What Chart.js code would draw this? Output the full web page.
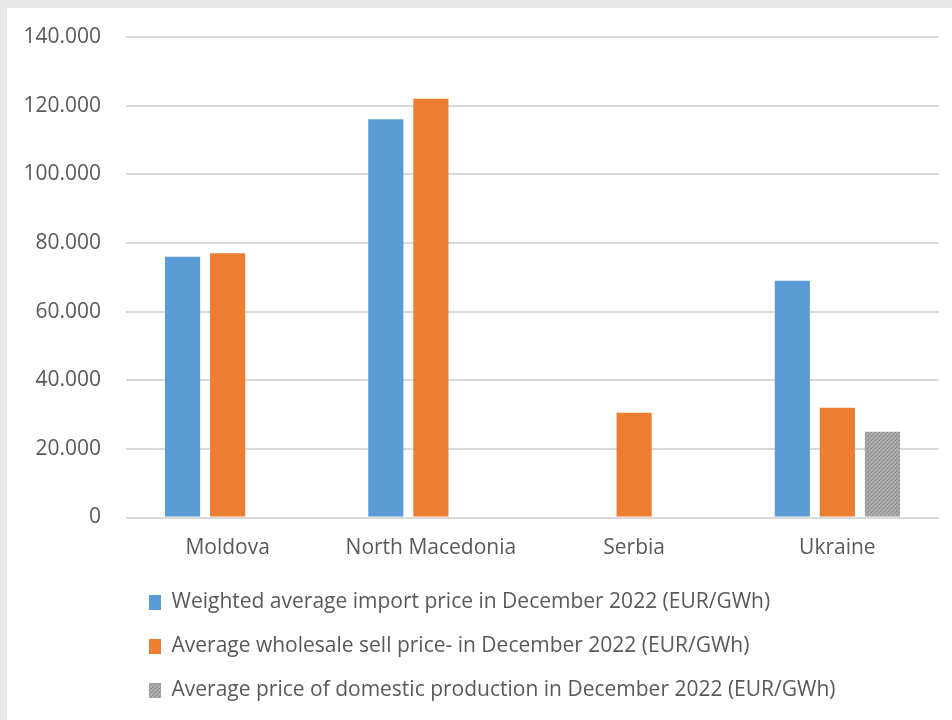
<!DOCTYPE html>
<html>
<head>
<meta charset="utf-8">
<script src="https://cdn.jsdelivr.net/npm/chart.js@4.4.0/dist/chart.umd.min.js"></script>
<style>
  html, body { margin: 0; padding: 0; background: #e7e7e7; }
  #wrap { position: absolute; left: 7px; top: 8px; width: 945px; height: 712px; background: #ffffff; }
</style>
</head>
<body>
<div id="wrap"><canvas id="ctx"></canvas></div>
<script>
var countries = ["Moldova", "North Macedonia", "Serbia", "Ukraine"];
var importPrice = [76, 116, null, 69];
var wholesalePrice = [77, 122, 30.5, 32];
var domesticPrice = [null, null, null, 25];
var seriesNames = [
    "Weighted average import price in December 2022 (EUR/GWh)",
    "Average wholesale sell price- in December 2022 (EUR/GWh)",
    "Average price of domestic production in December 2022 (EUR/GWh)"
];

// speckled grey fill like the original
function greyPattern() {
    var c = document.createElement('canvas');
    c.width = 4; c.height = 4;
    var g = c.getContext('2d');
    g.fillStyle = '#a6a6a6';
    g.fillRect(0, 0, 4, 4);
    g.fillStyle = '#8f8f8f';
    g.fillRect(0, 0, 1, 1); g.fillRect(2, 2, 1, 1); g.fillRect(3, 0, 1, 1); g.fillRect(1, 3, 1, 1);
    g.fillStyle = '#bdbdbd';
    g.fillRect(2, 0, 1, 1); g.fillRect(0, 2, 1, 1);
    return g.createPattern(c, 'repeat');
}

var font = "'Open Sans', 'Noto Sans', sans-serif";
var ctx = document.getElementById("ctx").getContext('2d');

var myChart = new Chart(ctx, {
    type: 'bar',
    data: {
        labels: countries,
        datasets: [{
            label: seriesNames[0],
            data: importPrice,
            backgroundColor: '#5b9bd5',
            borderWidth: 0
        }, {
            label: seriesNames[1],
            data: wholesalePrice,
            backgroundColor: '#ed7d31',
            borderWidth: 0
        }, {
            label: seriesNames[2],
            data: domesticPrice,
            backgroundColor: greyPattern(),
            borderWidth: 0
        }]
    },
    options: {
        responsive: true,
        maintainAspectRatio: false,
        animation: false,
        datasets: {
            bar: { categoryPercentage: 0.665, barPercentage: 0.78 }
        },
        layout: { padding: { left: 0, right: 13, top: 0, bottom: 9 } },
        scales: {
            x: {
                grid: { display: false, drawTicks: false },
                border: { display: false },
                afterFit: function (axis) { axis.height = 51.5; },
                ticks: { color: '#595959', font: { family: font, size: 21 }, padding: 18 }
            },
            y: {
                min: 0,
                max: 140,
                afterFit: function (axis) {
                    axis.width = 119;
                    axis.paddingTop = 29;
                },
                ticks: {
                    stepSize: 20,
                    color: '#595959',
                    font: { family: font, size: 21 },
                    padding: 25,
                    callback: function (v) { return v === 0 ? '0' : v.toFixed(3); }
                },
                grid: { color: '#d9d9d9', lineWidth: 2, drawTicks: false },
                border: { display: false }
            }
        },
        plugins: {
            tooltip: { enabled: false },
            legend: {
                position: 'bottom',
                align: 'start',
                fullSize: false,
                labels: {
                    color: '#595959',
                    font: { family: font, size: 21 },
                    boxWidth: 12,
                    boxHeight: 15,
                    padding: 23
                }
            }
        }
    }
});
</script>
</body>
</html>
